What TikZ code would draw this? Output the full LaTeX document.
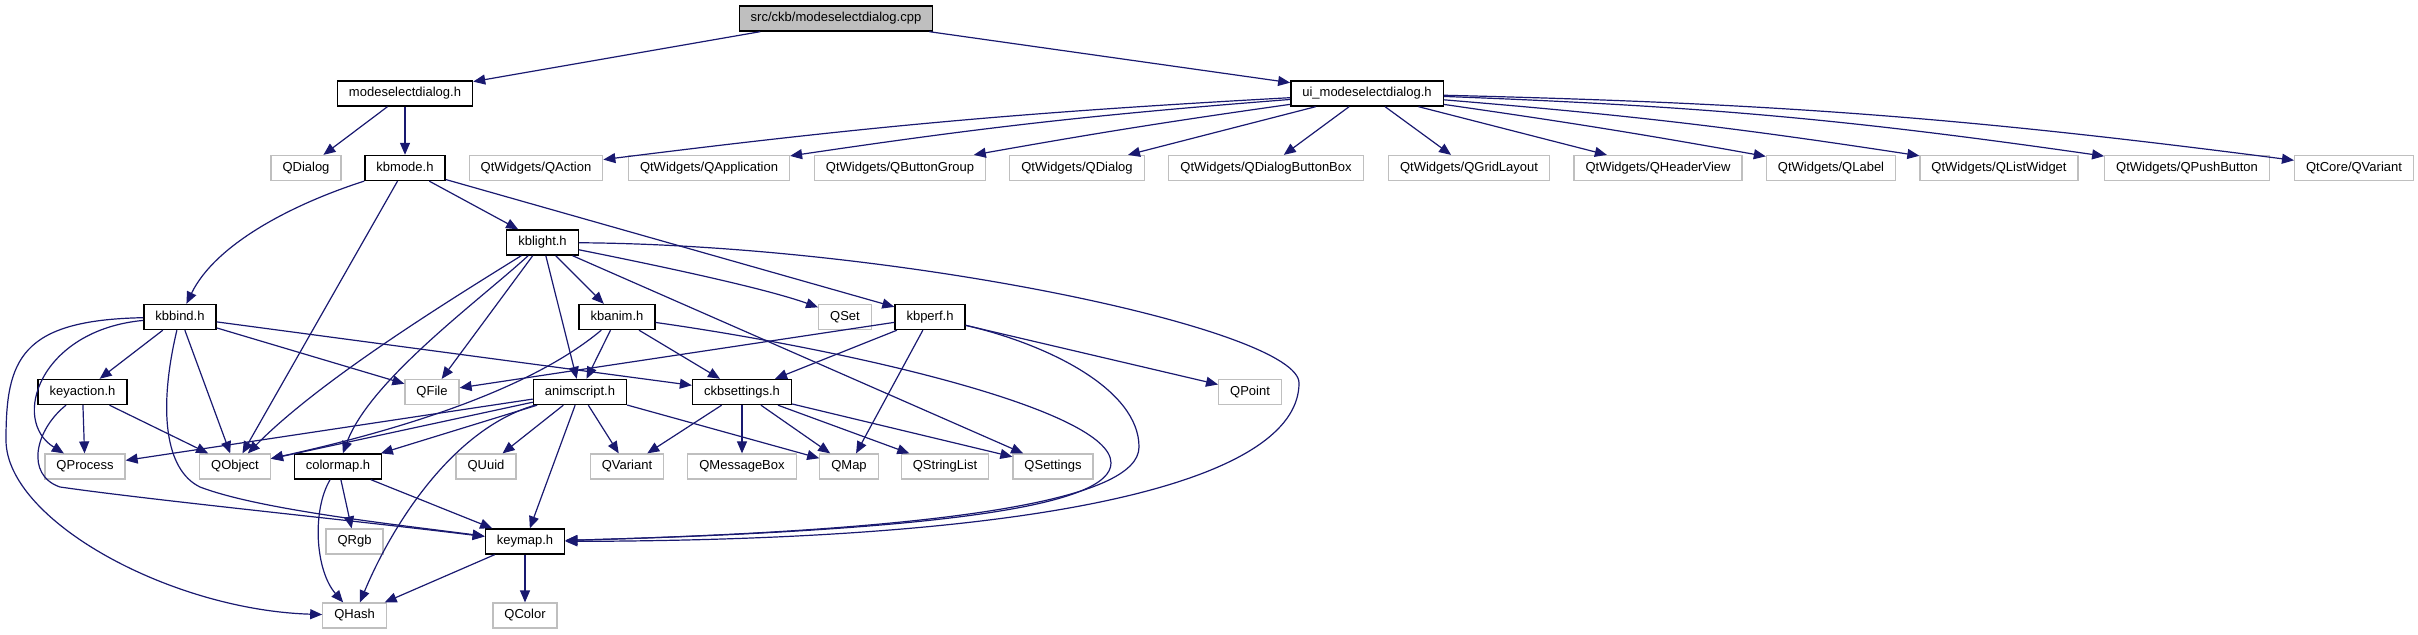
\documentclass[tikz,border=0pt]{standalone}
\usepackage{fontspec}
\setmainfont{Liberation Sans}
\usetikzlibrary{arrows.meta}
\definecolor{edgeblue}{HTML}{191970}
\definecolor{extgray}{HTML}{BFBFBF}

\begin{document}
\begin{tikzpicture}[x=0.5pt,y=-0.5pt,line width=0.6pt,>={Triangle[length=6pt,width=5pt]},
  every node/.style={font=\fontsize{6.5pt}{7pt}\selectfont,inner xsep=5.75pt,inner ysep=0pt,
    minimum height=12.5pt,text height=4.7pt,text depth=1.3pt},
  hdr/.style={draw=black,fill=white,line width=0.7pt},
  ext/.style={draw=extgray,fill=white,line width=0.6pt},
  srcfile/.style={draw=black,fill=extgray,line width=0.7pt},
  dep/.style={->,edgeblue}]
  \useasboundingbox (0,0) rectangle (2418,635);
  % nodos
  \node[srcfile] (cpp) at (836,18.5){src/ckb/modeselectdialog.cpp};
  \node[hdr] (msd) at (405,93.5){modeselectdialog.h};
  \node[hdr] (ui) at (1367,93.5){ui\_modeselectdialog.h};
  \node[ext] (qdialog) at (306,168){QDialog};
  \node[hdr] (kbmode) at (405,168){kbmode.h};
  \node[ext] (qaction) at (536,168){QtWidgets/QAction};
  \node[ext] (qapp) at (709,168){QtWidgets/QApplication};
  \node[ext] (qbtngroup) at (900,168){QtWidgets/QButtonGroup};
  \node[ext] (qwdialog) at (1077,168){QtWidgets/QDialog};
  \node[ext] (qbtnbox) at (1266,168){QtWidgets/QDialogButtonBox};
  \node[ext] (qgrid) at (1469,168){QtWidgets/QGridLayout};
  \node[ext] (qheader) at (1658,168){QtWidgets/QHeaderView};
  \node[ext] (qlabel) at (1831,168){QtWidgets/QLabel};
  \node[ext] (qlist) at (1999,168){QtWidgets/QListWidget};
  \node[ext] (qpush) at (2187,168){QtWidgets/QPushButton};
  \node[ext] (qcvariant) at (2354,168){QtCore/QVariant};
  \node[hdr] (kblight) at (542.5,242.5){kblight.h};
  \node[hdr] (kbbind) at (180,317){kbbind.h};
  \node[hdr] (kbanim) at (617,317){kbanim.h};
  \node[ext] (qset) at (845,317){QSet};
  \node[hdr] (kbperf) at (930,317){kbperf.h};
  \node[hdr] (keyaction) at (82.5,392){keyaction.h};
  \node[ext] (qfile) at (432,392){QFile};
  \node[hdr] (animscript) at (580,392){animscript.h};
  \node[hdr] (ckbsettings) at (742,392){ckbsettings.h};
  \node[ext] (qpoint) at (1250,392){QPoint};
  \node[ext] (qprocess) at (85,466.5){QProcess};
  \node[ext] (qobject) at (235,466.5){QObject};
  \node[hdr] (colormap) at (338,466.5){colormap.h};
  \node[ext] (quuid) at (486,466.5){QUuid};
  \node[ext] (qvariant) at (627,466.5){QVariant};
  \node[ext] (qmsgbox) at (742,466.5){QMessageBox};
  \node[ext] (qmap) at (849,466.5){QMap};
  \node[ext] (qstrlist) at (945,466.5){QStringList};
  \node[ext] (qsettings) at (1053,466.5){QSettings};
  \node[ext] (qrgb) at (354.5,541.5){QRgb};
  \node[hdr] (keymap) at (525,541.5){keymap.h};
  \node[ext] (qhash) at (354.5,615.5){QHash};
  \node[ext] (qcolor) at (525,615.5){QColor};
  % cpp y dialogo
  \draw[dep] (cpp) -- (msd);
  \draw[dep] (cpp) -- (ui);
  \draw[dep] (msd) -- (qdialog);
  \draw[dep] (msd) -- (kbmode);
  % ui_modeselectdialog.h
  \draw[dep] (ui) to[bend right=2] (qaction);
  \draw[dep] (ui) to[bend right=2] (qapp);
  \draw[dep] (ui) to[bend right=1] (qbtngroup);
  \draw[dep] (ui) -- (qwdialog);
  \draw[dep] (ui) -- (qbtnbox);
  \draw[dep] (ui) -- (qgrid);
  \draw[dep] (ui) -- (qheader);
  \draw[dep] (ui) to[bend left=1] (qlabel);
  \draw[dep] (ui) to[bend left=2] (qlist);
  \draw[dep] (ui) to[bend left=3] (qpush);
  \draw[dep] (ui) to[bend left=3] (qcvariant);
  % kbmode.h
  \draw[dep] (kbmode) .. controls (290,205) and (215,245) .. (kbbind);
  \draw[dep] (kbmode) -- (qobject);
  \draw[dep] (kbmode) -- (kblight);
  \draw[dep] (kbmode) -- (kbperf);
  % kblight.h
  \draw[dep] (kblight) .. controls (680,270) and (770,290) .. (qset);
  \draw[dep] (kblight) -- (kbanim);
  \draw[dep] (kblight) -- (animscript);
  \draw[dep] (kblight) -- (qfile);
  \draw[dep] (kblight) .. controls (480,300) and (370,380) .. (colormap);
  \draw[dep] (kblight) .. controls (450,300) and (320,380) .. (qobject);
  \draw[dep] (kblight) -- (qsettings);
  \draw[dep] (kblight) .. controls (900,245) and (1299,330) .. (1299,383)
    .. controls (1299,470) and (1100,540) .. (keymap);
  % kbbind.h
  \draw[dep] (kbbind) -- (keyaction);
  \draw[dep] (kbbind) .. controls (40,330) and (10,420) .. (qprocess);
  \draw[dep] (kbbind) .. controls (20,320) and (6,360) .. (6,440)
    .. controls (6,520) and (170,610) .. (qhash);
  \draw[dep] (kbbind) -- (qobject);
  \draw[dep] (kbbind) -- (qfile);
  \draw[dep] (kbbind) -- (ckbsettings);
  \draw[dep] (kbbind) .. controls (158,410) and (165,470) .. (200,487)
    .. controls (260,510) and (400,525) .. (keymap);
  % keyaction.h
  \draw[dep] (keyaction) -- (qprocess);
  \draw[dep] (keyaction) -- (qobject);
  \draw[dep] (keyaction) .. controls (35,430) and (25,475) .. (60,487)
    .. controls (150,500) and (350,520) .. (keymap);
  % kbanim.h
  \draw[dep] (kbanim) -- (animscript);
  \draw[dep] (kbanim) .. controls (530,390) and (400,430) .. (qobject);
  \draw[dep] (kbanim) -- (ckbsettings);
  \draw[dep] (kbanim) .. controls (850,350) and (1111,410) .. (1111,463)
    .. controls (1111,505) and (950,530) .. (keymap);
  % kbperf.h
  \draw[dep] (kbperf) -- (qfile);
  \draw[dep] (kbperf) -- (ckbsettings);
  \draw[dep] (kbperf) -- (qmap);
  \draw[dep] (kbperf) -- (qpoint);
  \draw[dep] (kbperf) .. controls (1050,345) and (1139,390) .. (1139,447)
    .. controls (1139,500) and (950,530) .. (keymap);
  % animscript.h
  \draw[dep] (animscript) -- (qprocess);
  \draw[dep] (animscript) -- (qobject);
  \draw[dep] (animscript) -- (colormap);
  \draw[dep] (animscript) -- (quuid);
  \draw[dep] (animscript) -- (qvariant);
  \draw[dep] (animscript) -- (qmap);
  \draw[dep] (animscript) -- (keymap);
  \draw[dep] (animscript) .. controls (450,430) and (390,530) .. (qhash);
  % ckbsettings.h
  \draw[dep] (ckbsettings) -- (qvariant);
  \draw[dep] (ckbsettings) -- (qmsgbox);
  \draw[dep] (ckbsettings) -- (qmap);
  \draw[dep] (ckbsettings) -- (qstrlist);
  \draw[dep] (ckbsettings) -- (qsettings);
  % colormap.h y keymap.h
  \draw[dep] (colormap) -- (qrgb);
  \draw[dep] (colormap) .. controls (312,510) and (315,570) .. (qhash);
  \draw[dep] (colormap) -- (keymap);
  \draw[dep] (keymap) -- (qhash);
  \draw[dep] (keymap) -- (qcolor);
\end{tikzpicture}
\end{document}
